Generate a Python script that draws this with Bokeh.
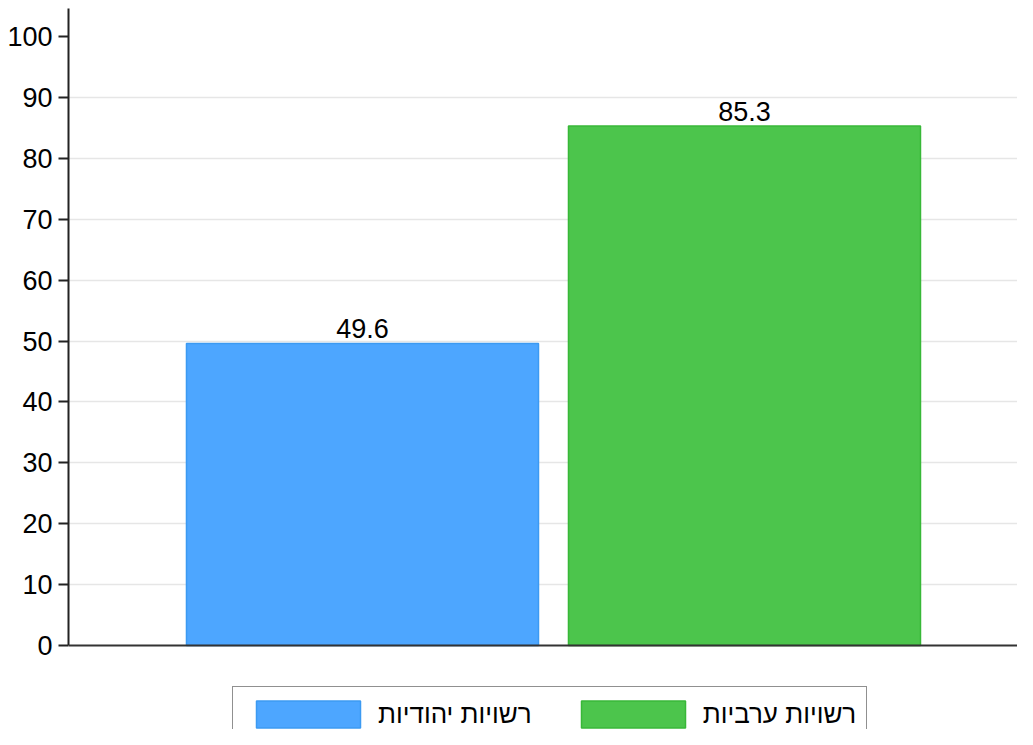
from bokeh.plotting import figure
from bokeh.models import Range1d, FixedTicker, Legend, LegendItem, ColumnDataSource, Span
from bokeh.core.properties import value
from bokeh.embed import file_html
from bokeh.resources import INLINE

categories = ["רשויות יהודיות", "רשויות ערביות"]
values = [49.6, 85.3]
labels = ["49.6", "85.3"]
fill_colors = ["#4da6ff", "#4cc54c"]
line_colors = ["#3c9af2", "#38b838"]
y_ticks = [0, 10, 20, 30, 40, 50, 60, 70, 80, 90, 100]
grid_ticks = [10, 20, 30, 40, 50, 60, 70, 80, 90]

FONT = "Liberation Sans"
Y_TOP = 104.6
Y_BOTTOM = -13.79

p = figure(width=1017, height=729, output_backend="svg", toolbar_location=None,
           x_range=Range1d(0.2304, 2.7147), y_range=Range1d(Y_BOTTOM, Y_TOP),
           x_axis_location=None,
           min_border_left=68, min_border_right=0, min_border_top=8, min_border_bottom=0)
p.outline_line_color = None
p.background_fill_color = "white"
p.border_fill_color = "white"

xs = [i + 1 for i in range(len(categories))]
renderers = []
for i, (x, v) in enumerate(zip(xs, values)):
    src = ColumnDataSource(dict(x=[x], top=[v]))
    r = p.vbar(x="x", top="top", bottom=0, width=0.9215, source=src,
               fill_color=fill_colors[i], line_color=line_colors[i], line_width=1.5)
    renderers.append(r)

lab_src = ColumnDataSource(dict(x=xs, y=values, t=labels))
p.text(x="x", y="y", text="t", source=lab_src, text_align="center",
       text_baseline="alphabetic", y_offset=-15, text_font=value(FONT),
       text_font_size="27px", text_color="black")

# baseline (x axis line)
p.add_layout(Span(location=0, dimension="width", line_color="#333333", line_width=2))

# y axis
ya = p.yaxis[0]
ya.ticker = FixedTicker(ticks=y_ticks)
ya.bounds = (0, Y_TOP)
ya.major_label_text_font = FONT
ya.major_label_text_font_size = "27px"
ya.major_label_text_color = "black"
ya.axis_line_color = "#222222"
ya.axis_line_width = 2
ya.major_tick_line_color = "#222222"
ya.major_tick_line_width = 2
ya.major_tick_out = 10
ya.major_tick_in = 0
ya.minor_tick_line_color = None
ya.major_label_standoff = 6

p.xgrid.grid_line_color = None
p.ygrid.ticker = FixedTicker(ticks=grid_ticks)
p.ygrid.grid_line_color = "#e6e6e6"
p.ygrid.grid_line_width = 1.5

legend = Legend(items=[LegendItem(label=categories[i], renderers=[renderers[i]]) for i in range(2)],
                orientation="horizontal", location=(164, -13),
                glyph_width=130, glyph_height=34, label_height=34,
                label_text_font=FONT, label_text_font_size="26px", label_text_color="black",
                label_standoff=5, spacing=36, padding=10, margin=0,
                border_line_color="#222222", border_line_width=1.5,
                background_fill_color="white", background_fill_alpha=1.0)
p.add_layout(legend, "center")

open("out.html", "w").write(file_html(p, INLINE))
